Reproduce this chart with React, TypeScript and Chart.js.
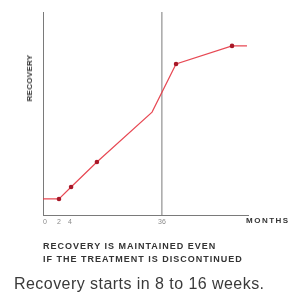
import React, { useEffect, useRef } from "react";
import { Chart, registerables } from "chart.js";

Chart.register(...registerables);

// schematic x positions (axis units) and recovery level (0-100)
const curveX = [0, 7.8, 13.7, 26.3, 53.2, 64.9, 92.2, 99.5];
const curveY = [7.9, 7.9, 13.8, 26.1, 50.7, 74.4, 83.3, 83.3];
const markerShown = [false, true, true, true, false, true, true, false];

const tickPositions = [1, 7.8, 13.2, 58];
const tickLabels = ["0", "2", "4", "36"];

const stopX = [58, 58];
const stopY = [0, 100];

const yTitle = "RECOVERY";
const xTitle = "MONTHS";
const noteLines = ["RECOVERY IS MAINTAINED EVEN", "IF THE TREATMENT IS DISCONTINUED"];
const caption = "Recovery starts in 8 to 16 weeks.";

export default function App() {
  const ref = useRef<HTMLCanvasElement | null>(null);

  useEffect(() => {
    document.body.style.margin = "0";
    const canvas = ref.current;
    if (!canvas) return;
    const chart = new Chart(canvas, {
      type: "line",
      data: {
        datasets: [
          {
            data: curveX.map((x, i) => ({ x, y: curveY[i] })),
            borderColor: "rgba(228,52,64,0.9)",
            borderWidth: 1.2,
            pointRadius: markerShown.map((m) => (m ? 2.3 : 0)),
            pointBackgroundColor: "#a81828",
            pointBorderColor: "#a81828",
            pointBorderWidth: 0,
            tension: 0,
          },
          {
            data: stopX.map((x, i) => ({ x, y: stopY[i] })),
            borderColor: "#7a7a7a",
            borderWidth: 1,
            pointRadius: 0,
          },
        ],
      },
      options: {
        animation: false,
        responsive: false,
        events: [],
        layout: { padding: { top: 12, right: 43, left: 0, bottom: 0 } },
        plugins: { legend: { display: false }, tooltip: { enabled: false } },
        scales: {
          x: {
            type: "linear",
            min: 0,
            max: 100,
            grid: { display: false, drawTicks: false },
            border: { display: true, color: "#7a7a7a", width: 1 },
            afterBuildTicks: (scale: any) => {
              scale.ticks = tickPositions.map((v) => ({ value: v }));
            },
            afterFit: (scale: any) => {
              scale.height = 83;
            },
            ticks: {
              autoSkip: false,
              maxRotation: 0,
              padding: 3,
              color: "#8a8a8a",
              font: { size: 7, family: "Liberation Sans, Arial, sans-serif" },
              callback: (v: any) => {
                const i = tickPositions.indexOf(Number(v));
                return i >= 0 ? tickLabels[i] : "";
              },
            },
          },
          y: {
            type: "linear",
            min: 0,
            max: 100,
            grid: { display: false, drawTicks: false },
            border: { display: true, color: "#7a7a7a", width: 1 },
            ticks: { display: false },
            afterFit: (scale: any) => {
              scale.width = 43;
            },
          },
        },
      },
    });
    return () => chart.destroy();
  }, []);

  const bold: React.CSSProperties = {
    position: "absolute",
    fontFamily: "Liberation Sans, Arial, sans-serif",
    fontWeight: "bold",
    color: "#333",
    whiteSpace: "nowrap",
  };

  return (
    <div style={{ position: "relative", width: 291, height: 298, overflow: "hidden", background: "#fff" }}>
      <canvas ref={ref} width={291} height={298} style={{ position: "absolute", left: 0, top: 0 }} />
      <div
        style={{
          ...bold,
          fontSize: 8,
          lineHeight: "8px",
          letterSpacing: "0.3px",
          left: 30,
          top: 78,
          transform: "translate(-50%, -50%) rotate(-90deg)",
        }}
      >
        {yTitle}
      </div>
      <div style={{ ...bold, fontSize: 8, lineHeight: "8px", letterSpacing: "1.5px", left: 246, top: 217 }}>
        {xTitle}
      </div>
      <div style={{ ...bold, fontSize: 9, lineHeight: "9px", letterSpacing: "1px", left: 43, top: 241.5 }}>
        {noteLines[0]}
      </div>
      <div style={{ ...bold, fontSize: 9, lineHeight: "9px", letterSpacing: "1px", left: 43, top: 254.5 }}>
        {noteLines[1]}
      </div>
      <div
        style={{
          position: "absolute",
          left: 14,
          top: 276,
          fontSize: 16,
          lineHeight: "16px",
          letterSpacing: "0.45px",
          fontFamily: "Liberation Sans, Arial, sans-serif",
          color: "#3a3a3a",
          whiteSpace: "nowrap",
        }}
      >
        {caption}
      </div>
    </div>
  );
}
